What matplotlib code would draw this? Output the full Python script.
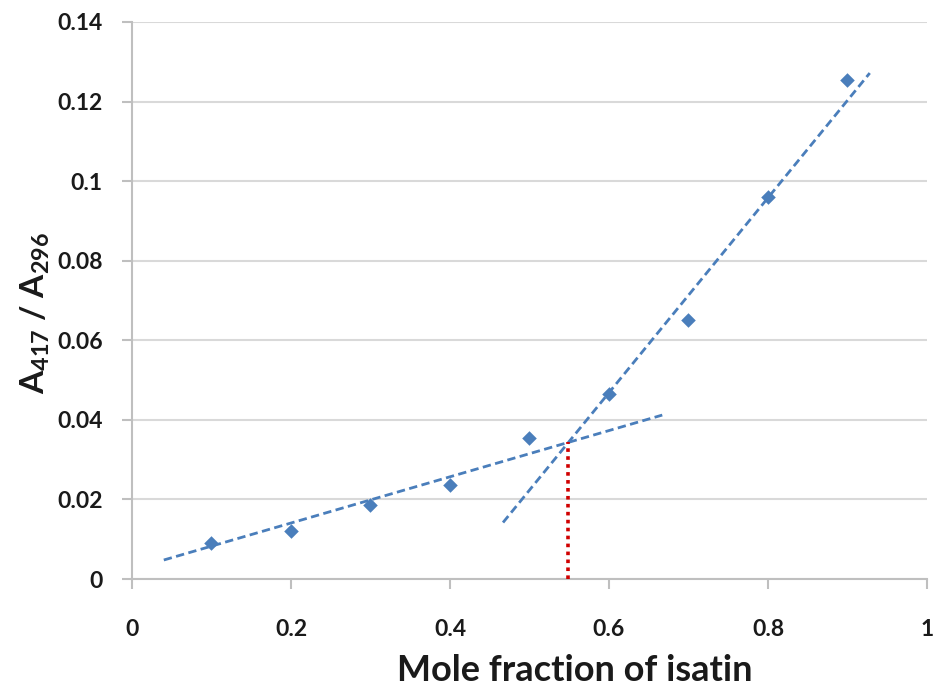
import numpy as np
import matplotlib.pyplot as plt

plt.rcParams['font.family'] = ['Lato', 'DejaVu Sans']
plt.rcParams['mathtext.fontset'] = 'custom'
plt.rcParams['mathtext.rm'] = 'Lato:bold'
plt.rcParams['mathtext.it'] = 'Lato:bold'
plt.rcParams['mathtext.bf'] = 'Lato:bold'
plt.rcParams['mathtext.default'] = 'rm'

# measured data (Job's plot)
mole_fraction = [0.1, 0.2, 0.3, 0.4, 0.5, 0.6, 0.7, 0.8, 0.9]
ratio = [0.0091, 0.0121, 0.0186, 0.0236, 0.0354, 0.0464, 0.0652, 0.0961, 0.1254]

# trend lines: slope, intercept, x-range
low_slope, low_icpt = 0.0581, 0.00245
low_xrange = [0.04, 0.667]
high_slope, high_icpt = 0.2449, -0.1001
high_xrange = [0.4667, 0.928]

x_ticks = [0, 0.2, 0.4, 0.6, 0.8, 1]
x_ticklabels = ["0", "0.2", "0.4", "0.6", "0.8", "1"]
y_ticks = [0, 0.02, 0.04, 0.06, 0.08, 0.1, 0.12, 0.14]
y_ticklabels = ["0", "0.02", "0.04", "0.06", "0.08", "0.1", "0.12", "0.14"]

BLUE = "#4a7ebb"
RED = "#d00000"
GREY = "#bfbfbf"

fig = plt.figure(figsize=(9.37, 6.87), dpi=100)
ax = fig.add_axes([132 / 937, 1 - 579 / 687, 795 / 937, 557 / 687])

# trend lines
xl = np.array(low_xrange)
ax.plot(xl, low_slope * xl + low_icpt, color=BLUE, lw=2, ls=(0, (3, 1.6)), zorder=3)
xh = np.array(high_xrange)
ax.plot(xh, high_slope * xh + high_icpt, color=BLUE, lw=2, ls=(0, (3, 1.6)), zorder=3)

# intersection -> red dotted drop line
x_int = (low_icpt - high_icpt) / (high_slope - low_slope)
y_int = low_slope * x_int + low_icpt
ax.plot([x_int, x_int], [0, y_int], color=RED, lw=2.6, ls=(0, (1, 1.2)), zorder=4)

ax.scatter(mole_fraction, ratio, marker="D", s=55, color=BLUE, zorder=5, linewidths=0)

ax.set_xlim(0, 1)
ax.set_ylim(0, 0.14)
ax.set_xticks(x_ticks)
ax.set_xticklabels(x_ticklabels)
ax.set_yticks(y_ticks)
ax.set_yticklabels(y_ticklabels)

ax.grid(axis="y", color="#d9d9d9", lw=1.5)
ax.set_axisbelow(True)
for s in ["top", "right"]:
    ax.spines[s].set_visible(False)
for s in ["left", "bottom"]:
    ax.spines[s].set_color(GREY)
    ax.spines[s].set_linewidth(1.5)

ax.tick_params(axis="both", colors=GREY, length=7, width=1.5, labelsize=16.5)
for lbl in ax.get_xticklabels() + ax.get_yticklabels():
    lbl.set_color("#1a1a1a")
    lbl.set_fontweight("bold")
ax.tick_params(axis="x", pad=22)
ax.tick_params(axis="y", pad=14)

ax.set_xlabel("Mole fraction of isatin", fontsize=26, fontweight="bold", color="#1a1a1a")
ax.xaxis.set_label_coords(0.557, -0.135)
ax.set_ylabel(r"A$_{417}$ / A$_{296}$", fontsize=24, fontweight="bold", color="#1a1a1a")
ax.yaxis.set_label_coords(-0.10, 0.478)

fig.savefig("out.png", dpi=100)
